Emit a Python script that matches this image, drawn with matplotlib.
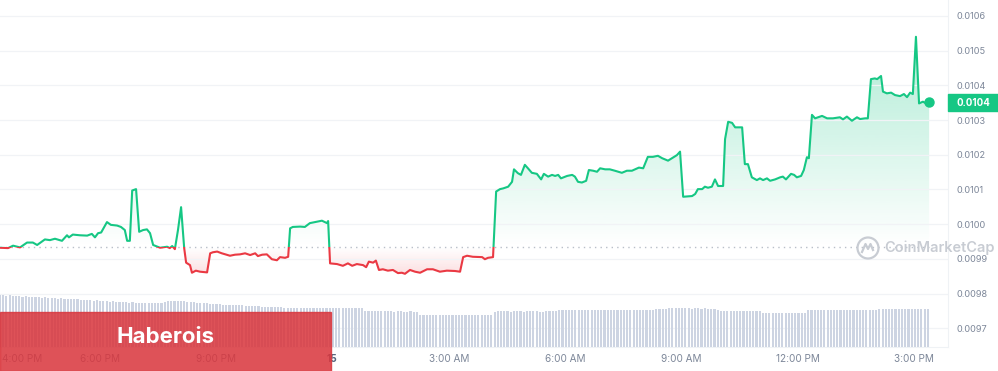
import numpy as np
import matplotlib
matplotlib.use("Agg")
import matplotlib.pyplot as plt
from matplotlib.path import Path
from matplotlib.patches import Rectangle, Ellipse
from matplotlib.lines import Line2D
from matplotlib.colors import to_rgb

plt.rcParams['font.family'] = ['Inter', 'DejaVu Sans']

#
# Data (hours counted from midnight of the 14th, 24 = midnight of the 15th)
#

hours = [15.43, 15.64, 15.77, 15.95, 16.13, 16.28, 16.39, 16.59, 16.72, 16.85,
         17.03, 17.16, 17.21, 17.31, 17.49, 17.68, 17.80, 17.88, 17.96, 18.04,
         18.19, 18.29, 18.45, 18.55, 18.65, 18.71, 18.78, 18.84, 18.94, 19.02,
         19.12, 19.22, 19.30, 19.38, 19.56, 19.74, 19.81, 19.87, 19.94, 20.02,
         20.10, 20.18, 20.23, 20.33, 20.38, 20.48, 20.59, 20.77, 20.85, 20.92,
         21.03, 21.15, 21.36, 21.49, 21.62, 21.75, 21.88, 22.01, 22.08, 22.19,
         22.31, 22.44, 22.57, 22.65, 22.78, 22.86, 22.91, 22.98, 23.17, 23.29,
         23.42, 23.60, 23.73, 23.86, 23.89, 23.94, 24.12, 24.27, 24.40, 24.51,
         24.63, 24.79, 24.87, 24.94, 25.05, 25.12, 25.20, 25.30, 25.43, 25.56,
         25.69, 25.79, 25.87, 26.00, 26.13, 26.26, 26.44, 26.59, 26.77, 26.95,
         27.16, 27.29, 27.37, 27.47, 27.62, 27.86, 27.93, 28.01, 28.14, 28.22,
         28.32, 28.40, 28.53, 28.63, 28.68, 28.78, 28.86, 28.96, 29.04, 29.14,
         29.27, 29.38, 29.45, 29.56, 29.66, 29.74, 29.82, 29.89, 30.05, 30.18,
         30.25, 30.33, 30.43, 30.54, 30.61, 30.72, 30.82, 30.90, 31.03, 31.15,
         31.28, 31.46, 31.59, 31.72, 31.80, 31.90, 32.01, 32.13, 32.26, 32.39,
         32.50, 32.65, 32.75, 32.88, 32.96, 33.04, 33.27, 33.35, 33.42, 33.53,
         33.60, 33.68, 33.78, 33.86, 33.94, 34.07, 34.12, 34.20, 34.30, 34.38,
         34.56, 34.63, 34.71, 34.81, 34.94, 35.02, 35.10, 35.20, 35.28, 35.41,
         35.54, 35.61, 35.69, 35.82, 35.90, 35.97, 36.08, 36.15, 36.23, 36.28,
         36.36, 36.44, 36.62, 36.75, 36.90, 37.08, 37.16, 37.26, 37.39, 37.52,
         37.60, 37.73, 37.80, 37.88, 37.98, 38.04, 38.14, 38.19, 38.29, 38.40,
         38.50, 38.63, 38.73, 38.81, 38.89, 38.96, 39.04, 39.12, 39.22, 39.30,
         39.38]

price = [0.009932, 0.009931, 0.009938, 0.009933, 0.009947, 0.009947, 0.009940, 0.009956, 0.009954, 0.009958,
         0.009952, 0.009968, 0.009962, 0.009970, 0.009968, 0.009967, 0.009972, 0.009962, 0.009974, 0.009976,
         0.010006, 0.009998, 0.009996, 0.009992, 0.009983, 0.009952, 0.009952, 0.010097, 0.010101, 0.009978,
         0.009983, 0.009985, 0.009974, 0.009940, 0.009932, 0.009935, 0.009931, 0.009937, 0.009928, 0.009983,
         0.010049, 0.009931, 0.009889, 0.009882, 0.009860, 0.009866, 0.009863, 0.009861, 0.009916, 0.009919,
         0.009921, 0.009916, 0.009909, 0.009912, 0.009913, 0.009916, 0.009911, 0.009916, 0.009908, 0.009912,
         0.009913, 0.009899, 0.009896, 0.009905, 0.009903, 0.009906, 0.009988, 0.009992, 0.009993, 0.009992,
         0.010003, 0.010007, 0.010010, 0.010003, 0.010009, 0.009887, 0.009885, 0.009880, 0.009887, 0.009880,
         0.009885, 0.009882, 0.009876, 0.009892, 0.009889, 0.009895, 0.009868, 0.009870, 0.009866, 0.009868,
         0.009859, 0.009860, 0.009857, 0.009868, 0.009863, 0.009860, 0.009870, 0.009870, 0.009863, 0.009866,
         0.009865, 0.009863, 0.009905, 0.009909, 0.009906, 0.009905, 0.009899, 0.009903, 0.009905, 0.010094,
         0.010101, 0.010103, 0.010108, 0.010122, 0.010158, 0.010147, 0.010142, 0.010171, 0.010161, 0.010148,
         0.010145, 0.010129, 0.010145, 0.010137, 0.010142, 0.010139, 0.010142, 0.010132, 0.010139, 0.010142,
         0.010137, 0.010122, 0.010120, 0.010125, 0.010156, 0.010154, 0.010151, 0.010161, 0.010158, 0.010158,
         0.010154, 0.010148, 0.010154, 0.010154, 0.010158, 0.010163, 0.010161, 0.010194, 0.010194, 0.010197,
         0.010190, 0.010183, 0.010190, 0.010199, 0.010209, 0.010079, 0.010081, 0.010087, 0.010101, 0.010101,
         0.010108, 0.010105, 0.010108, 0.010129, 0.010110, 0.010110, 0.010245, 0.010295, 0.010292, 0.010279,
         0.010279, 0.010173, 0.010173, 0.010135, 0.010127, 0.010132, 0.010127, 0.010132, 0.010125, 0.010129,
         0.010135, 0.010137, 0.010129, 0.010145, 0.010142, 0.010135, 0.010139, 0.010156, 0.010193, 0.010190,
         0.010315, 0.010305, 0.010312, 0.010305, 0.010305, 0.010308, 0.010302, 0.010310, 0.010298, 0.010308,
         0.010303, 0.010305, 0.010305, 0.010418, 0.010420, 0.010418, 0.010427, 0.010382, 0.010377, 0.010379,
         0.010372, 0.010369, 0.010375, 0.010366, 0.010379, 0.010375, 0.010540, 0.010348, 0.010353, 0.010348,
         0.010351]

base_price = 0.009934   # opening price of the window (dotted reference)
last_label = '0.0104'

# 5 min volume (thousand USD), one row per hour, first bar at vol_start
vol_start = 15.43
volume = [520, 520, 510, 520, 510, 510, 510, 500, 510, 500, 500, 500,
          500, 490, 500, 490, 490, 490, 480, 490, 480, 480, 480, 480,
          480, 470, 470, 470, 470, 460, 470, 460, 460, 460, 450, 460,
          450, 450, 450, 450, 440, 450, 440, 440, 440, 440, 440, 440,
          440, 440, 440, 450, 460, 460, 460, 460, 460, 460, 450, 450,
          450, 440, 440, 440, 440, 430, 430, 430, 430, 420, 420, 420,
          420, 420, 420, 420, 410, 410, 410, 410, 410, 400, 400, 400,
          400, 400, 400, 400, 390, 390, 390, 390, 390, 390, 390, 390,
          390, 390, 390, 390, 390, 390, 390, 390, 390, 390, 390, 390,
          390, 390, 390, 390, 390, 360, 360, 360, 360, 360, 360, 360,
          360, 360, 350, 360, 360, 350, 350, 360, 350, 350, 320, 320,
          320, 320, 320, 320, 320, 320, 320, 320, 320, 320, 320, 320,
          320, 320, 320, 320, 320, 320, 320, 320, 320, 350, 360, 360,
          360, 360, 350, 360, 360, 360, 350, 360, 360, 360, 360, 350,
          350, 360, 360, 360, 360, 370, 370, 370, 370, 370, 370, 370,
          370, 370, 370, 370, 370, 370, 370, 370, 370, 370, 370, 370,
          370, 370, 370, 370, 370, 370, 370, 370, 370, 370, 370, 380,
          380, 380, 380, 390, 390, 390, 390, 390, 390, 390, 380, 390,
          390, 380, 390, 380, 380, 380, 370, 360, 360, 360, 360, 360,
          360, 360, 360, 360, 360, 360, 360, 360, 340, 340, 340, 340,
          340, 340, 340, 340, 340, 340, 340, 340, 340, 340, 370, 370,
          370, 370, 370, 370, 370, 370, 370, 370, 370, 370, 370, 370,
          370, 370, 370, 370, 370, 370, 370, 370, 380, 380, 380, 380,
          380, 380, 380, 380, 380, 380, 380, 380, 380, 380, 380, 380]

tick_hours = [16, 18, 21, 24, 27, 30, 33, 36, 39]
tick_labels = ['4:00 PM', '6:00 PM', '9:00 PM', '15', '3:00 AM',
               '6:00 AM', '9:00 AM', '12:00 PM', '3:00 PM']
price_ticks = [0.0097, 0.0098, 0.0099, 0.0100, 0.0101,
               0.0102, 0.0103, 0.0104, 0.0105, 0.0106]

GREEN = '#16c784'
RED = '#ea3943'
TICK_GREY = '#7d8799'

hours = np.array(hours)
price = np.array(price)
vol_hours = vol_start + np.arange(len(volume)) / 12.0

#
# Figure
#

W, H = 998, 371
fig = plt.figure(figsize=(W / 100, H / 100), dpi=100)
ax = fig.add_axes([0, 24 / H, 948 / W, 347 / H])

# volume bars on their own scale (twinx moves ax ticks to the left, so make it first)
vax = ax.twinx()
vax.bar(vol_hours, volume, width=0.055, color='#cdd4e2', linewidth=0)
vax.set_ylim(0, 3470)
vax.set_yticks([])
for side in vax.spines:
  vax.spines[side].set_visible(False)


def gradient_fill(mask, color, lo, hi, a_lo, a_hi):
  coll = ax.fill_between(hours, price, base_price, where=mask, interpolate=True,
                         facecolor='none', edgecolor='none')
  clip = Path.make_compound_path(*coll.get_paths())
  grad = np.zeros((256, 1, 4))
  grad[..., :3] = to_rgb(color)
  grad[:, 0, 3] = np.linspace(a_lo, a_hi, 256)
  im = ax.imshow(grad, extent=[hours[0], hours[-1], lo, hi], origin='lower',
                 aspect='auto', zorder=1, interpolation='bilinear')
  im.set_clip_path(clip, transform=ax.transData)


gradient_fill(price >= base_price, GREEN, base_price, price.max(), 0.0, 0.34)
gradient_fill(price <= base_price, RED, price.min(), base_price, 0.16, 0.0)

# price line, green above the reference and red below
line_g, = ax.plot(hours, price, color=GREEN, lw=1.5, zorder=3)
line_g.set_clip_path(Rectangle((0, base_price), 100, 1, transform=ax.transData))
line_r, = ax.plot(hours, price, color=RED, lw=1.5, zorder=3)
line_r.set_clip_path(Rectangle((0, base_price - 1), 100, 1, transform=ax.transData))

ax.hlines(base_price, hours[0], hours[-1], colors='#b9bfc9', lw=1,
          linestyles=(0, (1, 3)), zorder=2)
ax.plot(hours[-1], price[-1], 'o', color=GREEN, ms=6.5, zorder=5, clip_on=False)

ax.set_xlim(15.433, 39.866)
ax.set_ylim(0.009646, 0.010646)

ax.set_yticks(price_ticks)
ax.set_yticklabels(['%.4f' % v for v in price_ticks])
ax.yaxis.tick_right()
ax.grid(axis='y', color='#f1f3f6', lw=0.9, zorder=0)
ax.set_xticks(tick_hours)
ax.set_xticklabels(tick_labels)
ax.tick_params(axis='y', length=0, pad=5.8, labelsize=6.6, labelcolor=TICK_GREY)
ax.tick_params(axis='x', length=0, pad=5, labelsize=7.2, labelcolor=TICK_GREY)
for lab in ax.get_xticklabels():
  if lab.get_text() == '15':
    lab.set_fontweight('bold')
    lab.set_color('#58667e')

for side in ['top', 'left']:
  ax.spines[side].set_visible(False)
for side in ['right', 'bottom']:
  ax.spines[side].set_color('#eff2f5')

#
# Decorations
#

# last price tag
fig.add_artist(Rectangle((948 / W, 1 - 111 / H), 50 / W, 17 / H,
                         transform=fig.transFigure, color=GREEN, zorder=6))
fig.text(973 / W, 1 - 102.5 / H, last_label, ha='center', va='center',
         color='white', fontsize=7, fontweight='bold', zorder=7)

# watermark
wm = '#c8ccd3'
fig.add_artist(Ellipse((868 / W, 1 - 248 / H), 21 / W, 21 / H, transform=fig.transFigure,
                       fill=False, edgecolor=wm, lw=1.6, zorder=6))
fig.add_artist(Line2D([862 / W, 865.5 / W, 868 / W, 870.5 / W, 873 / W],
                      [1 - 252 / H, 1 - 244 / H, 1 - 249 / H, 1 - 244 / H, 1 - 250 / H],
                      transform=fig.transFigure, color=wm, lw=1.6, zorder=6))
fig.text(884 / W, 1 - 248 / H, 'CoinMarketCap', ha='left', va='center',
         fontsize=10.5, color=wm, fontweight='semibold', zorder=6)

# banner (slightly see-through, the axis labels show under it)
fig.add_artist(Rectangle((0, 0), 331 / W, 59 / H, transform=fig.transFigure,
                         color='#d9363d', alpha=0.86, zorder=10))
fig.text(166 / W, 34 / H, 'Haberois', ha='center', va='center', color='white',
         fontsize=16, fontweight='bold', zorder=11)

fig.savefig('out.png', dpi=100)
